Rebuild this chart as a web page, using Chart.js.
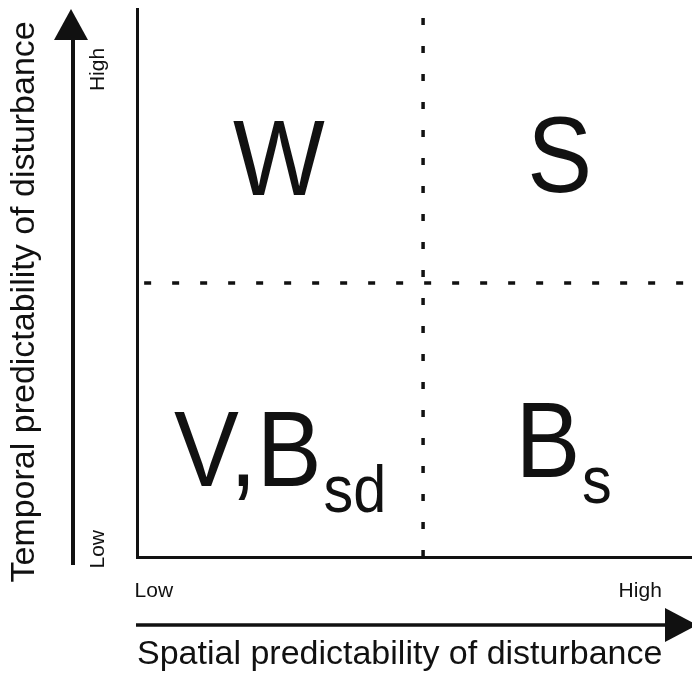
<!DOCTYPE html>
<html>
<head>
<meta charset="utf-8">
<script src="https://cdn.jsdelivr.net/npm/chart.js@4.4.1/dist/chart.umd.min.js"></script>
<style>
  html, body { margin: 0; padding: 0; background: #ffffff; }
  #wrap { width: 692px; height: 677px; position: relative; }
</style>
</head>
<body>
<div id="wrap"><canvas id="c" width="692" height="677"></canvas></div>
<script>
// ---- data ----
const xAxisTitle = 'Spatial predictability of disturbance';
const yAxisTitle = 'Temporal predictability of disturbance';
const xLevels = ['Low', 'High'];
const yLevels = ['Low', 'High'];
const xLevelTicks = [0.059, 1.759];
const yLevelTicks = [0.0985, 1.858];
const divider = 1;
const quadrantNames = ['W', 'S', 'V,B', 'B'];
const quadrantSubs = ['', '', 'sd', 's'];
const quadrantX = [0.336, 1.364, 0.129, 1.323];
const quadrantY = [1.321, 1.332, 0.259, 0.292];

// ---- layout / style ----
const X_MAX = 1.94;
const Y_MAX = 2;
const FONT = '"Liberation Sans", Arial, Helvetica, sans-serif';
const INK = '#111111';

const arrowPlugin = {
  id: 'arrows',
  afterDraw(chart) {
    const ctx = chart.ctx;
    const ca = chart.chartArea;
    ctx.save();
    ctx.fillStyle = INK;
    ctx.strokeStyle = INK;
    // vertical arrow (temporal)
    const ax = ca.left - 64;
    ctx.lineWidth = 4;
    ctx.beginPath(); ctx.moveTo(ax, ca.bottom + 8); ctx.lineTo(ax, 40); ctx.stroke();
    ctx.beginPath(); ctx.moveTo(ax - 19, 40); ctx.lineTo(ax + 15, 40); ctx.lineTo(ax - 2, 9); ctx.closePath(); ctx.fill();
    // horizontal arrow (spatial)
    const ay = 625;
    ctx.lineWidth = 3.5;
    ctx.beginPath(); ctx.moveTo(ca.left - 1, ay); ctx.lineTo(667, ay); ctx.stroke();
    ctx.beginPath(); ctx.moveTo(665, ay - 17); ctx.lineTo(665, ay + 17); ctx.lineTo(697, ay); ctx.closePath(); ctx.fill();
    ctx.restore();
  }
};

const quadLabelPlugin = {
  id: 'quadLabels',
  afterDatasetsDraw(chart) {
    const meta = chart.getDatasetMeta(2);
    const ctx = chart.ctx;
    ctx.save();
    ctx.fillStyle = INK;
    ctx.textAlign = 'left';
    ctx.textBaseline = 'alphabetic';
    meta.data.forEach((pt, i) => {
      ctx.save();
      ctx.translate(pt.x, pt.y);
      ctx.scale(0.9, 1);
      ctx.font = '108px ' + FONT;
      ctx.fillText(quadrantNames[i], 0, 0);
      const w = ctx.measureText(quadrantNames[i]).width;
      if (quadrantSubs[i]) {
        ctx.font = '66px ' + FONT;
        ctx.fillText(quadrantSubs[i], w + 2, 26);
      }
      ctx.restore();
    });
    ctx.restore();
  }
};

const dividerStyle = {
  showLine: true,
  borderColor: INK,
  borderWidth: 3.5,
  borderDash: [7, 21],
  borderCapStyle: 'butt',
  pointRadius: 0,
  pointHoverRadius: 0,
  clip: false,
  fill: false
};

new Chart(document.getElementById('c'), {
  type: 'scatter',
  data: {
    datasets: [
      Object.assign({ label: 'spatial divider', data: [{ x: divider, y: 0 }, { x: divider, y: 2.03 }] }, dividerStyle),
      Object.assign({ label: 'temporal divider', data: [{ x: 0.025, y: divider }, { x: X_MAX, y: divider }] }, dividerStyle),
      {
        label: 'quadrants',
        data: quadrantX.map((x, i) => ({ x: x, y: quadrantY[i] })),
        pointRadius: 0,
        pointHoverRadius: 0,
        showLine: false
      }
    ]
  },
  options: {
    responsive: false,
    animation: false,
    devicePixelRatio: 1,
    layout: { padding: { top: 9, left: 0, right: 0, bottom: 0 } },
    plugins: { legend: { display: false }, tooltip: { enabled: false } },
    scales: {
      x: {
        type: 'linear',
        position: 'bottom',
        min: 0,
        max: X_MAX,
        border: { display: true, color: INK, width: 3 },
        grid: { display: false, drawTicks: false },
        afterBuildTicks: s => { s.ticks = xLevelTicks.map(v => ({ value: v })); },
        ticks: {
          callback: (v, i) => xLevels[i],
          font: { family: FONT, size: 21 },
          color: INK,
          padding: 22,
          minRotation: 0,
          maxRotation: 0,
          autoSkip: false
        },
        title: {
          display: true,
          text: xAxisTitle,
          align: 'start',
          color: INK,
          font: { family: FONT, size: 34, lineHeight: 1 },
          padding: { top: 0, bottom: 5 }
        },
        afterFit: s => { s.height = 120; s.paddingLeft = 0; s.paddingRight = 0; }
      },
      y: {
        type: 'linear',
        position: 'left',
        min: 0,
        max: Y_MAX,
        border: { display: true, color: INK, width: 3 },
        grid: { display: false, drawTicks: false },
        afterBuildTicks: s => { s.ticks = yLevelTicks.map(v => ({ value: v })); },
        ticks: {
          callback: (v, i) => yLevels[i],
          font: { family: FONT, size: 21 },
          color: INK,
          padding: 39,
          minRotation: 90,
          maxRotation: 90,
          autoSkip: false
        },
        title: {
          display: true,
          text: yAxisTitle + '    ',
          color: INK,
          font: { family: FONT, size: 34, lineHeight: 1 },
          padding: { top: 8, bottom: 0 }
        },
        afterFit: s => { s.width = 137; s.paddingTop = 0; s.paddingBottom = 0; }
      }
    }
  },
  plugins: [arrowPlugin, quadLabelPlugin]
});
</script>
</body>
</html>
